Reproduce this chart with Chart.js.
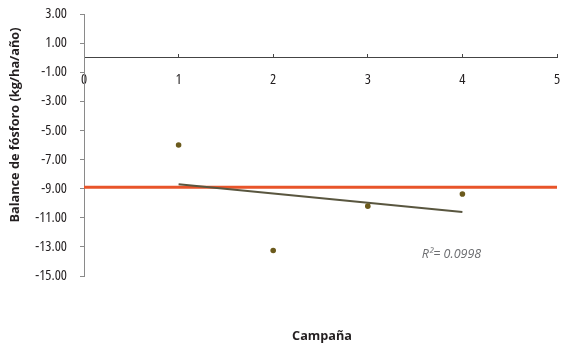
<!DOCTYPE html>
<html>
<head>
<meta charset="utf-8">
<script src="https://cdn.jsdelivr.net/npm/chart.js@4.4.1/dist/chart.umd.min.js"></script>
<style>
  html, body { margin: 0; padding: 0; background: #fff; }
  #wrap { width: 564px; height: 348px; position: relative; }
</style>
</head>
<body>
<div id="wrap"><canvas id="c" width="564" height="348"></canvas></div>
<script>
// ---- data ----
const campaigns = [1, 2, 3, 4];
const balance = [-6.0, -13.25, -10.2, -9.37];
const trendX = [1, 4];
const trendY = [-8.7, -10.6];
const refX = [0, 5];
const refY = [-8.9, -8.9];
const xTicks = [0, 1, 2, 3, 4, 5];
const yTicks = [3, 1, -1, -3, -5, -7, -9, -11, -13, -15];
const yTitle = 'Balance de fósforo (kg/ha/año)';
const xTitle = 'Campaña';
const r2Label = 'R²= 0.0998';
const r2Pos = { x: 3.57, y: -13.55 };

const FONT = '"Open Sans", "DejaVu Sans Condensed", sans-serif';

const toPts = (xs, ys) => xs.map((x, i) => ({ x: x, y: ys[i] }));

const condensePlugin = {
  id: 'condense',
  beforeUpdate(chart) { chart.ctx.fontStretch = 'condensed'; },
  beforeLayout(chart) { chart.ctx.fontStretch = 'condensed'; },
  beforeDraw(chart) { chart.ctx.fontStretch = 'condensed'; }
};

const textPlugin = {
  id: 'texts',
  afterDraw(chart) {
    const ctx = chart.ctx;
    const xs = chart.scales.x, ys = chart.scales.y;
    ctx.save();
    ctx.fontStretch = 'condensed';
    ctx.fillStyle = '#231f20';
    ctx.font = 'bold 12.7px ' + FONT;
    ctx.textAlign = 'center';
    ctx.textBaseline = 'middle';
    ctx.translate(15, 125);
    ctx.rotate(-Math.PI / 2);
    ctx.fillText(yTitle, 0, 0);
    ctx.restore();

    ctx.save();
    ctx.fontStretch = 'condensed';
    ctx.fillStyle = '#231f20';
    ctx.font = 'bold 12.7px ' + FONT;
    ctx.textAlign = 'center';
    ctx.textBaseline = 'alphabetic';
    ctx.fillText(xTitle, 322, 340);
    // R2 label
    ctx.fillStyle = '#6d6e71';
    ctx.font = 'italic 12.5px ' + FONT;
    ctx.textAlign = 'left';
    ctx.textBaseline = 'middle';
    ctx.fillText(r2Label, xs.getPixelForValue(r2Pos.x), ys.getPixelForValue(r2Pos.y));
    ctx.restore();
  }
};

new Chart(document.getElementById('c'), {
  type: 'scatter',
  data: {
    datasets: [
      {
        label: 'Referencia',
        type: 'line',
        data: toPts(refX, refY),
        borderColor: '#e8542a',
        borderWidth: 3,
        pointRadius: 0,
        order: 3
      },
      {
        label: 'Tendencia',
        type: 'line',
        data: toPts(trendX, trendY),
        borderColor: '#59563f',
        borderWidth: 2,
        pointRadius: 0,
        order: 2
      },
      {
        label: 'Balance',
        data: toPts(campaigns, balance),
        backgroundColor: '#6b5a1c',
        borderColor: '#6b5a1c',
        pointRadius: 2.8,
        borderWidth: 0,
        order: 1
      }
    ]
  },
  options: {
    responsive: false,
    animation: false,
    layout: { padding: { left: 0, top: 14, right: 7, bottom: 72 } },
    plugins: { legend: { display: false }, tooltip: { enabled: false } },
    scales: {
      x: {
        type: 'linear',
        position: { y: 0 },
        min: 0, max: 5,
        afterBuildTicks: (s) => { s.ticks = xTicks.map(v => ({ value: v })); },
        afterFit: (s) => { s.paddingLeft = 0; s.paddingRight = 0; s.paddingTop = 0; s.paddingBottom = 0; },
        ticks: { color: '#231f20', font: { family: FONT, size: 14.5 }, padding: 18, maxRotation: 0,
          callback: (v) => String(v) },
        grid: { drawOnChartArea: false, drawTicks: true, tickLength: -4, color: '#444' },
        border: { color: '#444', width: 1 }
      },
      y: {
        type: 'linear',
        min: -15, max: 3,
        afterBuildTicks: (s) => { s.ticks = yTicks.map(v => ({ value: v })); },
        afterFit: (s) => { s.width = 84; s.paddingTop = 0; s.paddingBottom = 0; },
        ticks: { color: '#231f20', font: { family: FONT, size: 14.5 }, padding: 13,
          callback: (v) => Number(v).toFixed(2) },
        grid: { drawOnChartArea: false, drawTicks: true, tickLength: 4, color: '#8a8a8a' },
        border: { color: '#8a8a8a', width: 1 }
      }
    }
  },
  plugins: [condensePlugin, textPlugin]
});
</script>
</body>
</html>
